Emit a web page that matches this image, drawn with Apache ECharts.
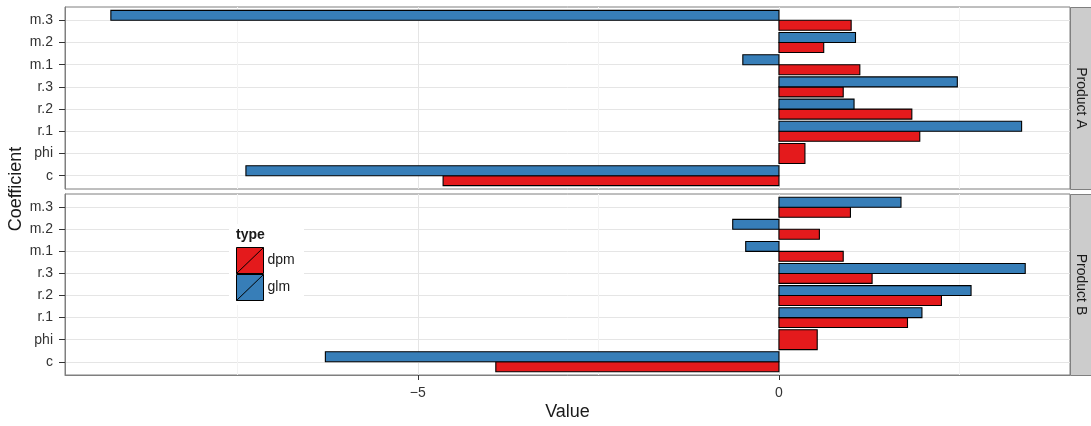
<!DOCTYPE html>
<html><head><meta charset="utf-8">
<script src="https://cdn.jsdelivr.net/npm/echarts@6/dist/echarts.min.js"></script>
<style>html,body{margin:0;padding:0;background:#fff}#c{width:1091px;height:426px}</style>
</head><body><div id="c"></div>
<script>
// ---- data ----
const categories = ['c', 'phi', 'r.1', 'r.2', 'r.3', 'm.1', 'm.2', 'm.3'];
const facets = ['Product A', 'Product B'];
const types = ['dpm', 'glm'];
const dpmA = [-4.65, 0.36, 1.95, 1.84, 0.89, 1.12, 0.62, 1.00];
const glmA = [-7.38, null, 3.36, 1.04, 2.47, -0.50, 1.06, -9.25];
const dpmB = [-3.92, 0.53, 1.78, 2.25, 1.29, 0.89, 0.56, 0.99];
const glmB = [-6.28, null, 1.98, 2.66, 3.41, -0.46, -0.64, 1.69];
const xTickValues = [-5, 0];
const xMinorValues = [-7.5, -2.5, 2.5];
const xMin = -9.885, xMax = 4.03;

// ---- styling ----
const FONT = "'Liberation Sans', Arial, Helvetica, sans-serif";
const COLORS = { dpm: '#E41A1C', glm: '#377EB8' };
const panels = [
  { top: 7, height: 182 },
  { top: 194, height: 181 }
];
const LEFT = 65, RIGHT = 21;
const DODGE = 0.9;

const facetData = [
  { dpm: dpmA, glm: glmA },
  { dpm: dpmB, glm: glmB }
];

function makeSeries(fi, type) {
  const vals = facetData[fi][type];
  const other = facetData[fi][type === 'dpm' ? 'glm' : 'dpm'];
  const data = [];
  vals.forEach((v, i) => {
    if (v == null) return;
    data.push([v, i, other[i] == null ? 0 : 1]);
  });
  const color = COLORS[type];
  return {
    type: 'custom',
    name: type,
    xAxisIndex: fi * 2,
    yAxisIndex: fi,
    itemStyle: { color: color },
    encode: { x: 0, y: 1 },
    data: data,
    z: 3,
    renderItem: function (params, api) {
      const v = api.value(0), c = api.value(1), paired = api.value(2);
      let y0, y1;
      if (!paired) { y0 = c - DODGE / 2; y1 = c + DODGE / 2; }
      else if (type === 'dpm') { y0 = c - DODGE / 2; y1 = c; }
      else { y0 = c; y1 = c + DODGE / 2; }
      const p0 = api.coord([0, y1]);
      const p1 = api.coord([v, y0]);
      return {
        type: 'rect',
        shape: {
          x: Math.min(p0[0], p1[0]), y: Math.min(p0[1], p1[1]),
          width: Math.abs(p1[0] - p0[0]), height: Math.abs(p1[1] - p0[1])
        },
        style: { fill: color, stroke: '#000', lineWidth: 1.1 }
      };
    }
  };
}

const grids = panels.map(p => ({
  left: LEFT, right: RIGHT, top: p.top, height: p.height,
  show: true, backgroundColor: '#fff', borderColor: '#7f7f7f', borderWidth: 1,
  containLabel: false
}));

const xAxes = [];
const yAxes = [];
panels.forEach((p, fi) => {
  const isBottom = fi === panels.length - 1;
  xAxes.push({
    type: 'value', gridIndex: fi, min: xMin, max: xMax, position: 'bottom',
    axisLine: { show: isBottom, onZero: false, lineStyle: { color: '#7f7f7f', width: 1 } },
    axisTick: { show: isBottom, customValues: xTickValues, length: 5, lineStyle: { color: '#333', width: 1 } },
    axisLabel: {
      show: isBottom, customValues: xTickValues, margin: 11,
      fontFamily: FONT, fontSize: 14, color: '#333',
      formatter: v => (v < 0 ? '\u2212' + Math.abs(v) : String(v))
    },
    splitLine: { show: true, lineStyle: { color: '#e5e5e5', width: 1 } },
    name: isBottom ? 'Value' : '', nameLocation: 'middle', nameGap: 28,
    nameTextStyle: { fontFamily: FONT, fontSize: 18, color: '#1a1a1a' }
  });
  xAxes.push({
    type: 'value', gridIndex: fi, min: xMin, max: xMax, position: 'top',
    axisLine: { show: false, onZero: false }, axisLabel: { show: false, customValues: xMinorValues },
    axisTick: { show: false, customValues: xMinorValues },
    splitLine: { show: true, lineStyle: { color: '#f3f3f3', width: 1 } }
  });
  const catIdx = categories.map((c, i) => i);
  yAxes.push({
    type: 'value', gridIndex: fi, min: -0.6, max: categories.length - 1 + 0.6, position: 'left',
    axisLine: { show: true, onZero: false, lineStyle: { color: '#7f7f7f', width: 1 } },
    axisTick: { show: true, customValues: catIdx, length: 6, lineStyle: { color: '#333', width: 1 } },
    axisLabel: {
      customValues: catIdx, margin: 12, fontFamily: FONT, fontSize: 14, color: '#333',
      formatter: v => categories[Math.round(v)]
    },
    splitLine: { show: true, lineStyle: { color: '#e5e5e5', width: 1 } }
  });
});

const series = [];
facets.forEach((f, fi) => { types.forEach(t => series.push(makeSeries(fi, t))); });

const graphics = [];
panels.forEach((p, fi) => {
  graphics.push({
    type: 'rect', z: 5,
    shape: { x: 1070.5, y: p.top + 0.5, width: 21, height: p.height },
    style: { fill: '#cccccc', stroke: '#7f7f7f', lineWidth: 1 }
  });
  graphics.push({
    type: 'text', z: 6, x: 1081, y: p.top + p.height / 2, rotation: -Math.PI / 2,
    style: { text: facets[fi], fontFamily: FONT, fontSize: 14, fill: '#1a1a1a', align: 'center', verticalAlign: 'middle' }
  });
});
// y axis title
graphics.push({
  type: 'text', z: 6, x: 16, y: 189, rotation: Math.PI / 2,
  style: { text: 'Coefficient', fontFamily: FONT, fontSize: 18, fill: '#1a1a1a', align: 'center', verticalAlign: 'middle' }
});
// legend background + title
graphics.push({
  type: 'rect', z: 8, shape: { x: 229, y: 224, width: 75, height: 81 },
  style: { fill: '#ffffff', stroke: null }
});
graphics.push({
  type: 'text', z: 9, x: 236, y: 235,
  style: { text: 'type', fontFamily: FONT, fontSize: 14, fontWeight: 'bold', fill: '#1a1a1a', align: 'left', verticalAlign: 'middle' }
});

const KEY_ICON = 'path://M0,0L1,0L1,1L0,1Z M0,1L1,0';

const chart = echarts.init(document.getElementById('c'), null, { renderer: 'canvas' });
chart.setOption({
  animation: false,
  backgroundColor: '#fff',
  grid: grids,
  xAxis: xAxes,
  yAxis: yAxes,
  legend: {
    orient: 'vertical', left: 236, top: 247, padding: 0, itemGap: 0,
    itemWidth: 27, itemHeight: 26, z: 10, selectedMode: false,
    symbolKeepAspect: false,
    data: types.map(t => ({ name: t, icon: KEY_ICON })),
    itemStyle: { borderColor: '#000', borderWidth: 1 },
    textStyle: { fontFamily: FONT, fontSize: 14, color: '#1a1a1a', padding: [0, 0, 0, -1] }
  },
  graphic: graphics,
  series: series
});
</script>
</body></html>
